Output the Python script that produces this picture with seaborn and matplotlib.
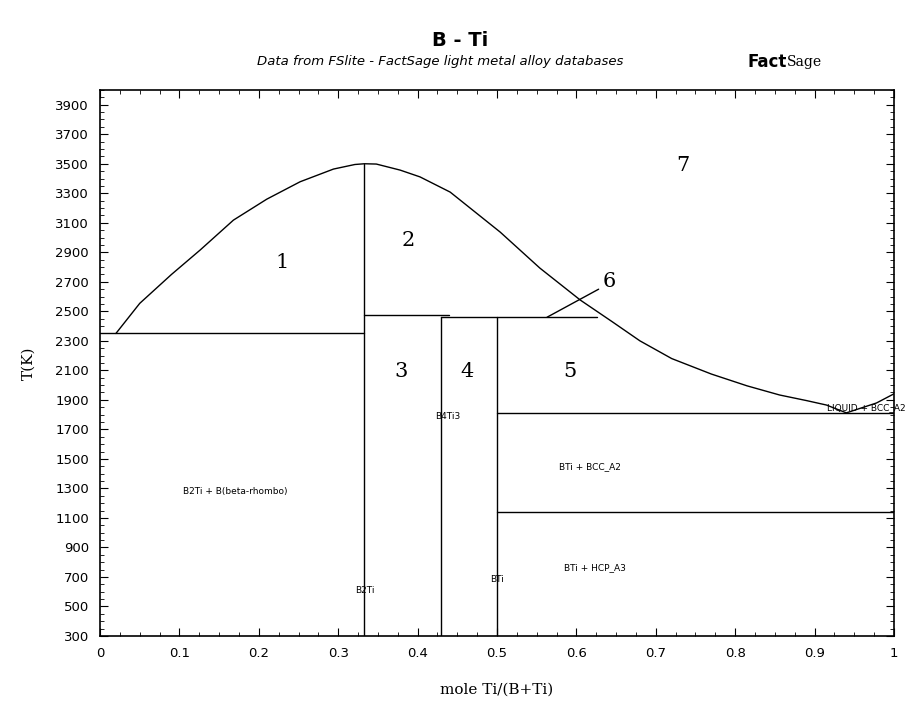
import numpy as np
import pandas as pd
import matplotlib
matplotlib.use('Agg')
import matplotlib.pyplot as plt
from matplotlib.ticker import MultipleLocator
import seaborn as sns

# ---- data (x = mole Ti/(B+Ti), T in K) ----
liq_left_x = [0.02, 0.05, 0.09, 0.126, 0.168, 0.21, 0.252, 0.294, 0.321, 0.333]
liq_left_T = [2350, 2554, 2750, 2915, 3118, 3260, 3378, 3464, 3495, 3500]
liq_right_x = [0.333, 0.348, 0.378, 0.403, 0.441, 0.504, 0.554, 0.605, 0.645,
               0.68, 0.72, 0.77, 0.815, 0.856, 0.89, 0.915, 0.94, 0.978, 1.0]
liq_right_T = [3500, 3498, 3457, 3411, 3308, 3037, 2793, 2576, 2430,
               2300, 2180, 2075, 1995, 1933, 1895, 1865, 1812, 1879, 1941]

# invariant / compound lines: (x0, T0, x1, T1)
seg_x0 = [0.0, 0.333, 0.43, 0.5, 0.5, 0.333, 0.43, 0.5, 0.563]
seg_T0 = [2350, 2475, 2460, 1811, 1140, 300, 300, 300, 2460]
seg_x1 = [0.333, 0.44, 0.626, 1.0, 1.0, 0.333, 0.43, 0.5, 0.628]
seg_T1 = [2350, 2475, 2460, 1811, 1140, 3500, 2460, 2460, 2650]

region_labels = ['1', '2', '3', '4', '5', '6', '7']
region_x = [0.229, 0.388, 0.379, 0.462, 0.592, 0.641, 0.734]
region_T = [2834, 2983, 2089, 2089, 2089, 2700, 3491]

phase_labels = ['B2Ti + B(beta-rhombo)', 'B2Ti', 'B4Ti3', 'BTi',
                'BTi + BCC_A2', 'BTi + HCP_A3']
phase_x = [0.170, 0.333, 0.438, 0.5, 0.617, 0.623]
phase_T = [1276, 605, 1784, 686, 1445, 761]

# build a long table of boundary lines
rows = []
for x, T in zip(liq_left_x + liq_right_x, liq_left_T + liq_right_T):
    rows.append({'x': x, 'T': T, 'seg': 'liq'})
for k in range(len(seg_x0)):
    rows.append({'x': seg_x0[k], 'T': seg_T0[k], 'seg': f's{k}'})
    rows.append({'x': seg_x1[k], 'T': seg_T1[k], 'seg': f's{k}'})
df = pd.DataFrame(rows)

sns.set_style('ticks')
plt.rcParams.update({'text.color': 'black', 'axes.labelcolor': 'black',
                     'xtick.color': 'black', 'ytick.color': 'black'})
fig = plt.figure(figsize=(9.22, 7.04), dpi=100)
ax = fig.add_axes([0.1085, 0.0966, 0.8611, 0.7756])

sns.lineplot(data=df, x='x', y='T', units='seg', estimator=None, sort=False,
             color='black', linewidth=1.0, ax=ax, legend=False)

ax.set_xlim(0, 1)
ax.set_ylim(300, 4000)
ax.set_xticks(np.round(np.arange(0, 1.01, 0.1), 1))
ax.set_xticklabels(['0'] + [f'{v:.1f}' for v in np.arange(0.1, 0.95, 0.1)] + ['1'])
ax.set_yticks(np.arange(300, 3901, 200))
ax.xaxis.set_minor_locator(MultipleLocator(0.025))
ax.yaxis.set_minor_locator(MultipleLocator(50))
ax.tick_params(which='both', direction='in', top=True, right=True, labelsize=9.5,
               pad=8)
ax.tick_params(which='major', length=6)
ax.tick_params(which='minor', length=3)
for s in ax.spines.values():
    s.set_linewidth(1.2)
    s.set_color('black')

ax.set_xlabel('mole Ti/(B+Ti)', family='DejaVu Serif', fontsize=11, labelpad=16)
ax.set_ylabel('T(K)', family='DejaVu Serif', fontsize=11, labelpad=14)

for lab, x, T in zip(region_labels, region_x, region_T):
    ax.text(x, T, lab, ha='center', va='center', family='DejaVu Serif', fontsize=15)
for lab, x, T in zip(phase_labels, phase_x, phase_T):
    ax.text(x, T, lab, ha='center', va='center', fontsize=6.5)
ax.text(0.916, 1845, 'LIQUID + BCC_A2', ha='left', va='center', fontsize=6.5,
        clip_on=False)

fig.text(0.499, 0.943, 'B - Ti', ha='center', va='center', fontsize=14,
         fontweight='bold')
fig.text(0.477, 0.912, 'Data from FSlite - FactSage light metal alloy databases',
         ha='center', va='center', fontsize=9.5, style='italic')
fig.text(0.853, 0.912, 'Fact', ha='right', va='center', fontsize=12,
         fontweight='heavy')
fig.text(0.853, 0.912, 'Sage', ha='left', va='center', fontsize=10,
         family='DejaVu Serif')

fig.savefig('out.png', dpi=100)
